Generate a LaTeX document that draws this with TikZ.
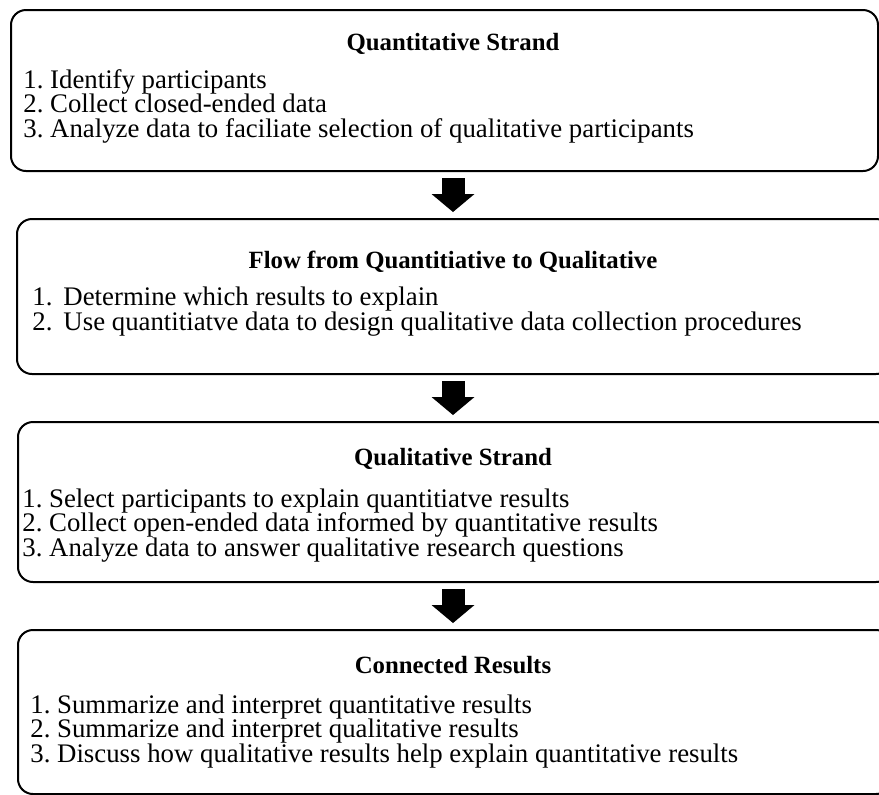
\documentclass[tikz,border=0pt]{standalone}
\usepackage{fontspec}
\setmainfont{Liberation Serif}
\usetikzlibrary{arrows.meta}
\frenchspacing
\lineskiplimit=-5pt
\begin{document}
\begin{tikzpicture}[x=0.5pt,y=-0.5pt,
  stage/.style={draw, line width=1pt, rounded corners=7.5pt, anchor=north west, inner sep=0pt},
  heading/.style={anchor=base, inner sep=0pt, font=\fontsize{12.4pt}{12.25pt}\selectfont\bfseries},
  steps/.style={anchor=base west, inner sep=0pt, align=left, font=\fontsize{13.4pt}{12.25pt}\selectfont},
  blockarrow/.style={line width=11.5pt, -{Triangle[length=9pt,width=21.5pt,line width=0pt]}, shorten <=3pt, shorten >=3pt}]
\useasboundingbox (0,0) rectangle (879,794);
\clip (0,0) rectangle (879,794);
% boxes
\node[stage, minimum width=433.5pt, minimum height=80.5pt] (quant) at (10,9) {};
\node[stage, minimum width=437pt, minimum height=77.5pt] (flow) at (16,218) {};
\node[stage, minimum width=436.5pt, minimum height=80pt] (qual) at (17,421) {};
\node[stage, minimum width=436.5pt, minimum height=82pt] (results) at (17,629) {};
% headings
\node[heading] (quanthead) at (453,50) {Quantitative Strand};
\node[heading] (flowhead) at (453,268) {Flow from Quantitiative to Qualitative};
\node[heading] (qualhead) at (453,465) {Qualitative Strand};
\node[heading] (resultshead) at (453,673) {Connected Results};
% steps (anchored at the last line)
\node[steps] (quantsteps) at (23,137) {1. Identify participants\\2. Collect closed-ended data\\3. Analyze data to faciliate selection of qualitative participants};
\node[steps] (flowsteps) at (32,330) {1.\hspace{5.5pt}Determine which results to explain\\2.\hspace{5.5pt}Use quantitiatve data to design qualitative data collection procedures};
\node[steps] (qualsteps) at (22,556) {1. Select participants to explain quantitiatve results\\2. Collect open-ended data informed by quantitative results\\3. Analyze data to answer qualitative research questions};
\node[steps] (resultssteps) at (30,762) {1. Summarize and interpret quantitative results\\2. Summarize and interpret qualitative results\\3. Discuss how qualitative results help explain quantitative results};
% arrows
\draw[blockarrow] (quanthead |- quant.south) -- (quanthead |- flow.north);
\draw[blockarrow] (quanthead |- flow.south) -- (quanthead |- qual.north);
\draw[blockarrow] (quanthead |- qual.south) -- (quanthead |- results.north);
\end{tikzpicture}
\end{document}
